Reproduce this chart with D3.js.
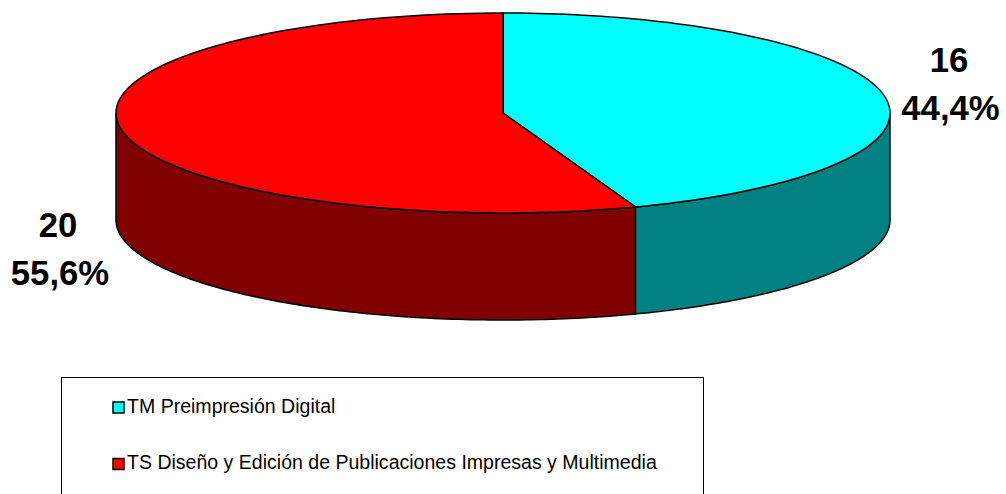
<!DOCTYPE html>
<html><head><meta charset="utf-8"><script src="https://cdn.jsdelivr.net/npm/d3@7"></script>
<style>html,body{margin:0;background:#fff}svg{display:block}text{font-family:"Liberation Sans",Arial,sans-serif}</style></head>
<body><svg id="c" width="1006" height="494"></svg>
<script>
const categories=["TM Preimpresión Digital","TS Diseño y Edición de Publicaciones Impresas y Multimedia"];
const values=[16,20];
const percents=["44,4%","55,6%"];
const topColors=["#00ffff","#ff0000"];
const sideColors=["#008080","#800000"];
const svg=d3.select("#c");
const cx=503,cy=113,rx=387,ry=100,depth=107;
const angles=d3.pie().sort(null)(values);
const px=a=>cx+rx*Math.sin(a), py=a=>cy-ry*Math.cos(a);
const line=d3.line().x(d=>d[0]).y(d=>d[1]);
function arcPts(a0,a1,dy){const n=120;return d3.range(n+1).map(i=>{const a=a0+(a1-a0)*i/n;return [px(a),py(a)+dy];});}
angles.forEach((d,i)=>{
  const a0=Math.max(d.startAngle,Math.PI/2), a1=Math.min(d.endAngle,3*Math.PI/2);
  if(a1<=a0) return;
  const pts=arcPts(a0,a1,0).concat(arcPts(a1,a0,depth));
  svg.append("path").attr("d",line(pts)+"Z").attr("fill",sideColors[i]).attr("stroke","#000").attr("stroke-width",1.5);
});
angles.forEach((d,i)=>{
  const pts=[[cx,cy]].concat(arcPts(d.startAngle,d.endAngle,0));
  svg.append("path").attr("d",line(pts)+"Z").attr("fill",topColors[i]).attr("stroke","#000").attr("stroke-width",1.5);
});
const labels=[[values[0],949,72],[percents[0],950.5,120],[values[1],58,237],[percents[1],60,285]];
labels.forEach(l=>svg.append("text").attr("x",l[1]).attr("y",l[2]).attr("text-anchor","middle").attr("font-size",34.7).attr("font-weight","bold").text(l[0]));
svg.append("rect").attr("x",61.5).attr("y",377.5).attr("width",642).attr("height",130).attr("fill","#fff").attr("stroke","#000");
const ly=d3.scalePoint().domain(categories).range([407,463.5]);
categories.forEach((c,i)=>{
  svg.append("rect").attr("x",113).attr("y",ly(c)-5).attr("width",11).attr("height",11).attr("fill",topColors[i]).attr("stroke","#000").attr("stroke-width",1.5);
  svg.append("text").attr("x",127).attr("y",ly(c)+5.5).attr("font-size",19.55).attr("fill","#000").text(c);
});
</script></body></html>
